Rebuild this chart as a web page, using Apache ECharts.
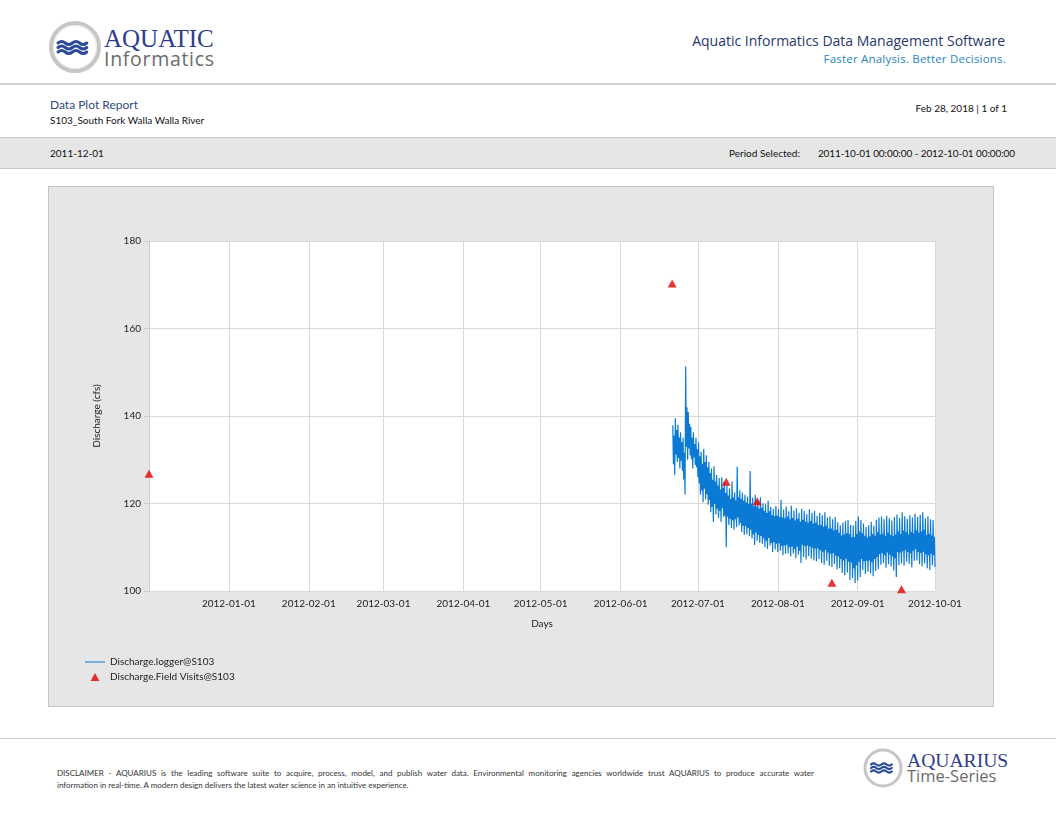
<!DOCTYPE html>
<html><head><meta charset="utf-8">
<script src="https://cdn.jsdelivr.net/npm/echarts@6/dist/echarts.min.js"></script>
<style>
body{margin:0;width:1056px;height:816px;position:relative;background:#fff;font-family:Lato,'Open Sans',sans-serif;overflow:hidden}
.abs{position:absolute;white-space:nowrap;line-height:1}
</style></head><body>

<svg class="abs" style="left:47px;top:19px" width="56" height="56" viewBox="0 0 56 56">
  <circle cx="28" cy="28" r="24" fill="#fff" stroke="#c6c6c6" stroke-width="4"/>
  <circle cx="28" cy="28" r="21.5" fill="none" stroke="#e8e8e8" stroke-width="1"/>
  <g stroke="#2c4a9a" stroke-width="3" fill="none" stroke-linecap="round">
    <path d="M11,24 q3.6,-3 7.2,0 t7.2,0 t7.2,0 t7.2,0"/>
    <path d="M11,28.5 q3.6,-3 7.2,0 t7.2,0 t7.2,0 t7.2,0"/>
    <path d="M11,33 q3.6,-3 7.2,0 t7.2,0 t7.2,0 t7.2,0"/>
  </g>
</svg>
<div class="abs" style="left:104px;top:26px;font-family:'Liberation Serif',serif;font-size:25px;color:#2e3d8f;">AQUATIC</div>
<div class="abs" style="left:104px;top:49px;font-family:'Open Sans',sans-serif;font-size:19.5px;color:#6b6b6b;letter-spacing:0.7px;">Informatics</div>

<div class="abs" style="right:51px;top:34px;font-family:'Open Sans',sans-serif;font-size:14px;color:#27386b;">Aquatic Informatics Data Management Software</div>
<div class="abs" style="right:50px;top:53px;font-family:'Open Sans',sans-serif;font-size:11.5px;color:#1f86c0;letter-spacing:0.2px;">Faster Analysis. Better Decisions.</div>

<div class="abs" style="left:0;top:83px;width:1056px;height:2px;background:#cfcfcf;"></div>

<div class="abs" style="left:50px;top:99px;font-size:12px;color:#2f4a7a;">Data Plot Report</div>
<div class="abs" style="left:50px;top:115px;font-size:10px;color:#111;">S103_South Fork Walla Walla River</div>
<div class="abs" style="right:49px;top:103px;font-size:10px;color:#111;">Feb 28, 2018 | 1 of 1</div>

<div class="abs" style="left:0;top:137px;width:1056px;height:30px;background:#e6e6e6;border-top:1px solid #c8c8c8;border-bottom:1px solid #c8c8c8;"></div>
<div class="abs" style="left:50px;top:148px;font-size:10px;color:#111;">2011-12-01</div>
<div class="abs" style="left:729px;top:148px;font-size:10px;color:#111;">Period Selected:</div>
<div class="abs" style="right:41px;top:148px;font-size:10px;color:#111;letter-spacing:-0.1px;">2011-10-01 00:00:00 - 2012-10-01 00:00:00</div>

<div class="abs" style="left:48px;top:186px;width:944px;height:519px;border:1px solid #c4c4c4;background:#e6e6e6;"></div>
<div id="chart" class="abs" style="left:49px;top:187px;width:944px;height:519px;"></div>

<div class="abs" style="left:0;top:738px;width:1056px;height:1px;background:#c8c8c8;"></div>
<div class="abs" style="left:57px;top:769px;width:757px;font-size:8px;color:#333;text-align:justify;text-align-last:justify;white-space:normal;">DISCLAIMER - AQUARIUS is the leading software suite to acquire, process, model, and publish water data. Environmental monitoring agencies worldwide trust AQUARIUS to produce accurate water</div>
<div class="abs" style="left:57px;top:781px;font-size:8px;color:#333;">information in real-time. A modern design delivers the latest water science in an intuitive experience.</div>

<svg class="abs" style="left:862px;top:747px" width="42" height="42" viewBox="0 0 42 42">
  <circle cx="21" cy="21" r="18" fill="#fff" stroke="#c6c6c6" stroke-width="3"/>
  <g stroke="#2c4a9a" stroke-width="2.2" fill="none" stroke-linecap="round">
    <path d="M9,17.5 q2.6,-2.2 5.2,0 t5.2,0 t5.2,0 t5.2,0"/>
    <path d="M9,21 q2.6,-2.2 5.2,0 t5.2,0 t5.2,0 t5.2,0"/>
    <path d="M9,24.5 q2.6,-2.2 5.2,0 t5.2,0 t5.2,0 t5.2,0"/>
  </g>
</svg>
<div class="abs" style="left:907px;top:751px;font-family:'Liberation Serif',serif;font-size:19.6px;color:#2e3d8f;">AQUARIUS</div>
<div class="abs" style="left:907px;top:768px;font-family:'Open Sans',sans-serif;font-size:16.5px;color:#6b6b6b;">Time-Series</div>

<script>
// ---- data ----
const xMin = '2011-12-01';
const xMax = '2012-10-01';
const yMin = 100, yMax = 180, yStep = 20;

// Discharge.logger@S103: estimated values (cfs) read from the band, 4 readings per day
// starting 2012-06-21 06:00: daily high (00h), lower-core (06h), upper-core (12h), daily low (18h)
const loggerStart = '2012-06-21T06:00:00';
const loggerHigh = [
 137.9,139.5,138.0,136.3,135.0,151.3,140.9,137.5,136.3,135.0,
 134.0,131.8,132.5,131.0,129.5,128.0,128.5,126.5,125.8,126.0,
 125.0,124.2,123.5,125.0,122.5,128.4,123.0,122.5,122.0,121.6,
 127.4,121.3,122.0,120.7,121.4,120.0,119.8,120.6,119.2,118.8,
 119.4,118.7,120.8,118.6,119.3,118.2,119.5,118.4,118.9,117.9,
 118.8,118.3,117.6,118.7,117.9,118.3,117.2,117.9,117.3,118.0,
 116.8,117.1,116.4,116.9,115.7,115.0,115.6,116.0,116.2,115.1,
 115.0,116.0,117.0,116.2,115.4,114.6,115.0,115.8,114.9,116.3,
 116.8,117.0,116.4,117.2,116.6,116.1,116.9,117.5,116.7,118.0,
 117.1,116.5,117.3,116.8,117.7,116.9,117.4,118.0,116.6,117.1,
 116.4,116.2
];
const loggerCoreLow = [
 129.0,131.2,130.4,129.8,125.5,133.0,132.6,130.1,130.5,128.3,
 124.6,123.0,123.4,122.1,120.8,119.2,119.9,118.8,118.3,118.9,
 117.2,117.0,116.5,116.2,116.4,116.8,115.6,114.9,114.8,114.4,
 114.0,112.9,113.4,112.8,112.6,112.0,111.5,112.1,111.0,111.2,
 110.8,110.9,110.3,110.4,110.6,110.0,110.2,109.6,110.1,109.2,
 110.6,110.3,110.4,110.2,109.9,109.7,109.8,109.3,109.0,109.4,
 108.8,108.5,108.7,108.1,107.9,107.3,107.0,107.4,106.7,106.5,
 105.2,105.9,106.7,107.3,106.8,106.9,107.0,106.6,107.3,107.8,
 108.4,108.7,108.2,108.8,108.3,107.9,107.5,108.9,108.8,109.1,
 109.3,108.9,108.6,109.2,109.6,108.9,108.7,109.0,108.4,108.1,
 108.5,108.2
];
const loggerCoreHigh = [
 135.5,136.8,135.1,134.0,131.6,142.0,138.2,135.0,133.6,132.4,
 130.8,129.1,129.5,128.3,126.9,125.4,125.0,124.1,123.2,123.6,
 122.4,121.8,121.0,121.4,120.7,121.5,121.0,120.6,120.2,119.9,
 120.0,119.4,119.3,118.8,119.0,118.3,117.8,118.2,117.3,117.1,
 117.2,116.9,116.8,116.6,117.0,116.4,116.7,116.1,116.5,115.8,
 116.3,115.9,115.6,116.0,115.4,115.6,115.0,115.1,114.7,114.9,
 114.2,114.3,113.8,114.0,113.3,112.7,112.9,113.2,113.0,112.3,
 112.4,113.0,113.6,113.2,112.6,112.2,112.5,113.0,112.6,113.4,
 112.9,113.1,112.6,113.3,112.8,112.5,112.9,113.6,113.0,113.8,
 113.4,112.9,113.5,113.2,113.9,113.3,113.6,114.0,112.8,113.1,
 112.7,112.4
];
const loggerLow = [
 126.5,129.5,128.0,127.5,122.0,130.0,131.0,128.0,128.8,126.0,
 122.0,120.3,121.0,119.7,118.0,115.8,117.5,116.7,115.8,117.0,
 110.0,115.1,114.4,114.0,114.6,115.0,113.5,112.8,113.0,112.5,
 112.0,110.5,111.5,111.0,110.8,110.0,109.6,110.4,108.9,109.5,
 108.9,109.2,108.2,108.5,108.6,107.9,108.6,107.5,108.3,106.4,
 107.8,107.2,108.0,107.4,107.0,106.8,107.3,106.4,106.0,106.9,
 105.8,105.5,106.2,104.9,105.2,104.1,103.6,104.3,102.5,103.0,
 101.8,102.4,103.2,104.8,103.9,104.4,104.1,103.4,104.6,105.0,
 106.0,106.4,105.3,106.1,105.6,104.7,103.2,105.9,106.3,105.8,
 106.7,106.2,105.4,106.9,107.0,106.1,105.6,106.3,105.2,104.8,
 105.9,105.5
];

// Discharge.Field Visits@S103
const visitDates  = ['2011-12-01','2012-06-21','2012-07-12','2012-07-24','2012-08-22','2012-09-18'];
const visitValues = [126.8, 170.3, 125.0, 120.5, 101.9, 100.4];

const seriesNames = ['Discharge.logger@S103', 'Discharge.Field Visits@S103'];

// ---- build ----
const DAY = 86400000;
const Q = DAY / 4;
const t0 = new Date(loggerStart).getTime();
const loggerData = [];
for (let i = 0; i < loggerHigh.length; i++) {
  const t = t0 + i * DAY;
  loggerData.push([t, loggerHigh[i]]);
  loggerData.push([t + Q, loggerCoreLow[i]]);
  loggerData.push([t + 2 * Q, loggerCoreHigh[i]]);
  loggerData.push([t + 3 * Q, loggerLow[i]]);
}
const visitData = visitDates.map((d, i) => [d, visitValues[i]]);

function pad(n){ return (n < 10 ? '0' : '') + n; }

const chart = echarts.init(document.getElementById('chart'), null, {renderer: 'canvas'});
chart.setOption({
  animation: false,
  textStyle: {fontFamily: 'Lato, sans-serif'},
  grid: {left: 100, top: 54, right: 58, bottom: 115, show: true, backgroundColor: '#ffffff', borderWidth: 0},
  xAxis: {
    type: 'time', min: xMin, max: xMax,
    minInterval: 28 * DAY, maxInterval: 31 * DAY,
    name: 'Days', nameLocation: 'middle', nameGap: 28,
    nameTextStyle: {fontSize: 10, color: '#222'},
    axisLine: {show: false}, axisTick: {show: false},
    splitLine: {show: true, lineStyle: {color: '#d9d9d9', width: 1}},
    axisLabel: {
      fontSize: 10, color: '#222', margin: 8, hideOverlap: false,
      formatter: function (v) {
        const d = new Date(v);
        if (d.getFullYear() < 2012) return '';
        return d.getFullYear() + '-' + pad(d.getMonth() + 1) + '-' + pad(d.getDate());
      }
    }
  },
  yAxis: {
    type: 'value', min: yMin, max: yMax, interval: yStep,
    name: 'Discharge (cfs)', nameLocation: 'middle', nameGap: 47,
    nameTextStyle: {fontSize: 10, color: '#222'},
    axisLine: {show: true, lineStyle: {color: '#cfcfcf'}},
    axisTick: {show: true, length: 5, lineStyle: {color: '#cfcfcf'}},
    splitLine: {show: true, lineStyle: {color: '#d9d9d9'}},
    axisLabel: {fontSize: 10, color: '#222', margin: 8}
  },
  legend: {
    orient: 'vertical', left: 31, top: 465, itemWidth: 20, itemHeight: 8, itemGap: 5,
    textStyle: {fontSize: 10, color: '#222'},
    data: [
      {name: seriesNames[0], icon: 'path://M0,0H20V1H0Z'},
      {name: seriesNames[1], icon: 'path://M5,0 L10,9 L0,9 Z'}
    ]
  },
  series: [
    {
      name: seriesNames[0], type: 'line', data: loggerData,
      symbol: 'none', showSymbol: false, sampling: null,
      lineStyle: {color: '#0a7ad4', width: 1.2}, itemStyle: {color: '#0a7ad4'}
    },
    {
      name: seriesNames[1], type: 'scatter', data: visitData,
      symbol: 'triangle', symbolSize: [9, 8], clip: false,
      itemStyle: {color: '#e50000'}, z: 5
    }
  ]
});
</script>
</body></html>
